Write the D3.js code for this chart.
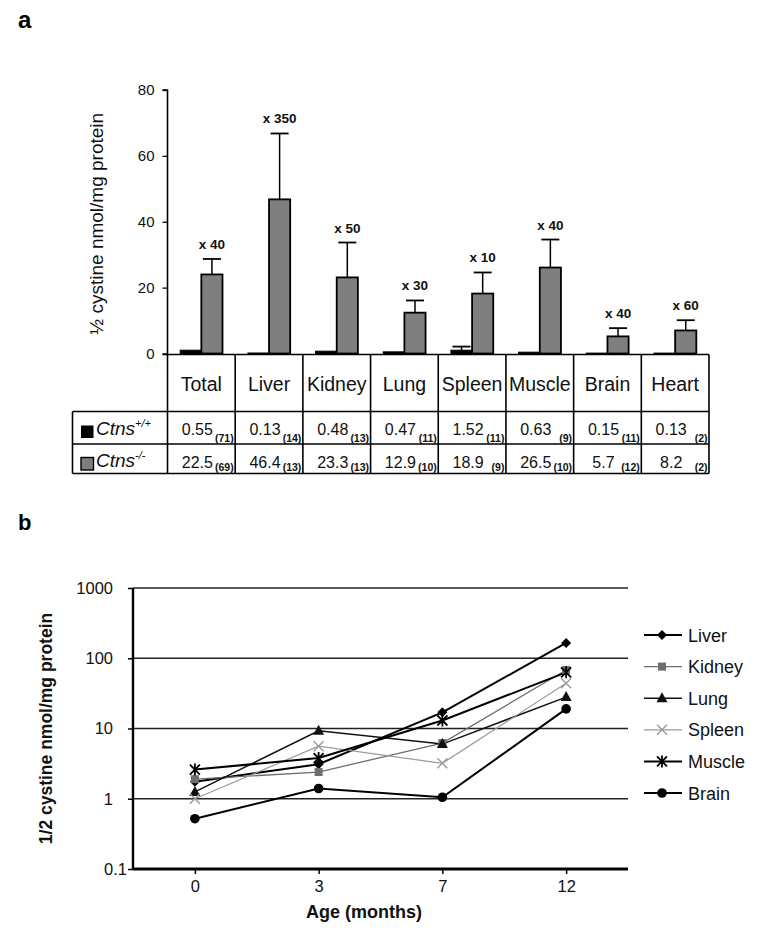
<!DOCTYPE html>
<html><head><meta charset="utf-8">
<script src="https://cdn.jsdelivr.net/npm/d3@7/dist/d3.min.js"></script>
<style>
html,body{margin:0;padding:0;background:#fff;}
svg{display:block;font-family:"Liberation Sans",Arial,Helvetica,sans-serif;}
</style></head>
<body>
<svg id="fig" width="757" height="935"></svg>
<script>
// ---------- Panel a data ----------
const tissues = ["Total","Liver","Kidney","Lung","Spleen","Muscle","Brain","Heart"];
const wtBar   = [1.0, 0.15, 0.7, 0.5, 1.0, 0.4, 0.12, 0.12];
const wtErr   = [null, null, null, null, 2.1, null, null, null];
const koBar   = [24.0, 46.8, 23.1, 12.4, 18.2, 26.1, 5.2, 7.0];
const koErr   = [28.7, 66.8, 33.7, 16.1, 24.6, 34.6, 7.7, 10.1];
const foldLabels = ["x 40","x 350","x 50","x 30","x 10","x 40","x 40","x 60"];
const wtMean = ["0.55","0.13","0.48","0.47","1.52","0.63","0.15","0.13"];
const wtN    = ["(71)","(14)","(13)","(11)","(11)","(9)","(11)","(2)"];
const koMean = ["22.5","46.4","23.3","12.9","18.9","26.5","5.7","8.2"];
const koN    = ["(69)","(13)","(13)","(10)","(9)","(10)","(12)","(2)"];
const yTicksA = [0,20,40,60,80];

// ---------- Panel b data ----------
const ages = ["0","3","7","12"];
const seriesNames = ["Liver","Kidney","Lung","Spleen","Muscle","Brain"];
const liver  = [1.75, 3.1, 17, 165];
const kidney = [1.9, 2.4, 6.2, 68];
const lung   = [1.25, 9.3, 6.0, 28];
const spleen = [1.0, 5.6, 3.2, 44];
const muscle = [2.6, 3.8, 13, 63];
const brain  = [0.52, 1.4, 1.05, 19];
const yTicksB = [0.1, 1, 10, 100, 1000];

const svg = d3.select("#fig");

// ================= Panel a =================
svg.append("text").attr("x",18).attr("y",28).attr("font-size",24).attr("font-weight","bold").text("a");

const tblLeft = 167.5, tblRight = 709;
const xCol = d3.scaleBand().domain(tissues).range([tblLeft, tblRight]).padding(0);
const xGrp = d3.scaleBand().domain(["wt","ko"]).range([0, xCol.bandwidth()]).paddingInner(0).paddingOuter(0.6);
const yA = d3.scaleLinear().domain([0,80]).range([353.5, 90]);

const gA = svg.append("g");
// y axis
const axA = gA.append("g").attr("transform",`translate(${tblLeft},0)`)
  .call(d3.axisLeft(yA).tickValues(yTicksA).tickSize(5).tickPadding(8).tickFormat(d3.format("d")));
axA.select(".domain").attr("stroke","#000").attr("stroke-width",1.6).attr("d",`M-5,${yA(80)}H0V${yA(0)+2}`);
axA.selectAll(".tick line").attr("stroke","#000").attr("stroke-width",1.3);
axA.selectAll(".tick text").attr("font-size",15).attr("fill","#111").attr("font-family","Liberation Sans, Arial, sans-serif");

gA.append("text").attr("transform",`translate(103,${(yA(0)+yA(80))/2+2}) rotate(-90)`)
  .attr("text-anchor","middle").attr("font-size",19).attr("fill","#111")
  .text("½ cystine  nmol/mg protein");

const data = tissues.map((t,i)=>({t, wt:wtBar[i], wtE:wtErr[i], ko:koBar[i], koE:koErr[i], lab:foldLabels[i]}));

// error bars (behind bars)
const capW = 18;
data.forEach(d=>{
  const cxK = xCol(d.t)+xGrp("ko")+xGrp.bandwidth()/2;
  gA.append("line").attr("x1",cxK).attr("x2",cxK).attr("y1",yA(d.ko)).attr("y2",yA(d.koE)).attr("stroke","#000").attr("stroke-width",1.5);
  gA.append("line").attr("x1",cxK-capW/2).attr("x2",cxK+capW/2).attr("y1",yA(d.koE)).attr("y2",yA(d.koE)).attr("stroke","#000").attr("stroke-width",1.8);
  if(d.wtE!=null){
    const cxW = xCol(d.t)+xGrp("wt")+xGrp.bandwidth()/2;
    gA.append("line").attr("x1",cxW).attr("x2",cxW).attr("y1",yA(d.wt)).attr("y2",yA(d.wtE)).attr("stroke","#000").attr("stroke-width",1.5);
    gA.append("line").attr("x1",cxW-capW/2).attr("x2",cxW+capW/2).attr("y1",yA(d.wtE)).attr("y2",yA(d.wtE)).attr("stroke","#000").attr("stroke-width",1.8);
  }
  gA.append("text").attr("x",cxK).attr("y",yA(d.koE)-10).attr("text-anchor","middle")
    .attr("font-size",13.5).attr("font-weight","bold").attr("fill","#111").text(d.lab);
});
// bars
gA.selectAll("rect.wt").data(data).enter().append("rect")
  .attr("x",d=>xCol(d.t)+xGrp("wt")).attr("width",xGrp.bandwidth())
  .attr("y",d=>yA(d.wt)).attr("height",d=>yA(0)-yA(d.wt))
  .attr("fill","#000").attr("stroke","#000").attr("stroke-width",1);
gA.selectAll("rect.ko").data(data).enter().append("rect")
  .attr("x",d=>xCol(d.t)+xGrp("ko")).attr("width",xGrp.bandwidth())
  .attr("y",d=>yA(d.ko)).attr("height",d=>yA(0)-yA(d.ko))
  .attr("fill","#7f7f7f").attr("stroke","#000").attr("stroke-width",1.8);

// table
const rowTop = yA(0)+1, hdrBot = 411.5, r1Bot = 444, r2Bot = 473.5, legLeft = 72.5;
const T = gA.append("g").attr("stroke","#000").attr("stroke-width",1.6);
T.append("line").attr("x1",tblLeft-5).attr("x2",tblRight).attr("y1",rowTop).attr("y2",rowTop);
[hdrBot, r1Bot, r2Bot].forEach(y=>T.append("line").attr("x1",legLeft).attr("x2",tblRight).attr("y1",y).attr("y2",y));
T.append("line").attr("x1",legLeft).attr("x2",legLeft).attr("y1",hdrBot).attr("y2",r2Bot);
tissues.forEach(t=>T.append("line").attr("x1",xCol(t)).attr("x2",xCol(t)).attr("y1",rowTop).attr("y2",r2Bot));
T.append("line").attr("x1",tblRight).attr("x2",tblRight).attr("y1",rowTop).attr("y2",r2Bot);

tissues.forEach((t,i)=>{
  const cx = xCol(t)+xCol.bandwidth()/2, right = xCol(t)+xCol.bandwidth()-1.5;
  gA.append("text").attr("x",cx).attr("y",391).attr("text-anchor","middle").attr("font-size",19.5).attr("fill","#111").text(t);
  gA.append("text").attr("x",cx-4).attr("y",435).attr("text-anchor","middle").attr("font-size",16).attr("fill","#111").text(wtMean[i]);
  gA.append("text").attr("x",right).attr("y",441.5).attr("text-anchor","end").attr("font-size",10.5).attr("font-weight","bold").attr("fill","#111").text(wtN[i]);
  gA.append("text").attr("x",cx-4).attr("y",467.5).attr("text-anchor","middle").attr("font-size",16).attr("fill","#111").text(koMean[i]);
  gA.append("text").attr("x",right).attr("y",471).attr("text-anchor","end").attr("font-size",10.5).attr("font-weight","bold").attr("fill","#111").text(koN[i]);
});
// legend cells
gA.append("rect").attr("x",81).attr("y",425.5).attr("width",12.5).attr("height",12.5).attr("fill","#000");
gA.append("rect").attr("x",81).attr("y",457.5).attr("width",12.5).attr("height",12.5).attr("fill","#7f7f7f").attr("stroke","#000").attr("stroke-width",1.4);
const l1 = gA.append("text").attr("x",96).attr("y",434.5).attr("font-size",19).attr("font-style","italic").attr("fill","#111");
l1.append("tspan").text("Ctns");
l1.append("tspan").attr("dy",-8).attr("font-size",11).text("+/+");
const l2 = gA.append("text").attr("x",96).attr("y",467).attr("font-size",19).attr("font-style","italic").attr("fill","#111");
l2.append("tspan").text("Ctns");
l2.append("tspan").attr("dy",-8).attr("font-size",11).text("-/-");

// ================= Panel b =================
svg.append("text").attr("x",18).attr("y",530).attr("font-size",22).attr("font-weight","bold").text("b");

const xB = d3.scalePoint().domain(ages).range([133, 628]).padding(0.5);
const yB = d3.scaleLog().domain([0.1,1000]).range([869, 588]);
const gB = svg.append("g");

// gridlines
gB.selectAll("line.grid").data(yTicksB.filter(v=>v>0.1)).enter().append("line")
  .attr("x1",133).attr("x2",628).attr("y1",d=>yB(d)).attr("y2",d=>yB(d))
  .attr("stroke","#222").attr("stroke-width",1.3);

const axBy = gB.append("g").attr("transform","translate(133,0)")
  .call(d3.axisLeft(yB).tickValues(yTicksB).tickSize(5).tickPadding(15).tickFormat(d=>String(d)));
axBy.select(".domain").attr("stroke","#000").attr("stroke-width",2.4).attr("d",`M0,${yB(1000)}V${yB(0.1)+1}`);
axBy.selectAll(".tick line").attr("stroke","#000").attr("stroke-width",1.5);
axBy.selectAll(".tick text").attr("font-size",16.5).attr("fill","#111").attr("font-family","Liberation Sans, Arial, sans-serif")
  .attr("x",d=>d===0.1 ? -6 : -20);

const axBx = gB.append("g").attr("transform",`translate(0,${yB(0.1)})`)
  .call(d3.axisBottom(xB).tickSize(5).tickPadding(6));
axBx.select(".domain").attr("stroke","#000").attr("stroke-width",3).attr("d","M133,0H628");
axBx.selectAll(".tick line").attr("stroke","#000").attr("stroke-width",1.5);
axBx.selectAll(".tick text").attr("font-size",16.5).attr("fill","#111").attr("font-family","Liberation Sans, Arial, sans-serif");

gB.append("text").attr("x",364).attr("y",918).attr("text-anchor","middle").attr("font-size",18).attr("font-weight","bold").attr("fill","#111").text("Age (months)");
gB.append("text").attr("transform",`translate(52,${(yB(0.1)+yB(1000))/2}) rotate(-90)`)
  .attr("text-anchor","middle").attr("font-size",17.5).attr("font-weight","bold").attr("fill","#111")
  .text("1/2 cystine nmol/mg protein");

const series = [
  {name:"Liver",  vals:liver,  color:"#000", w:2.0, marker:"diamond"},
  {name:"Kidney", vals:kidney, color:"#6e6e6e", w:1.3, marker:"square"},
  {name:"Lung",   vals:lung,   color:"#111", w:1.5, marker:"triangle"},
  {name:"Spleen", vals:spleen, color:"#9a9a9a", w:1.2, marker:"x"},
  {name:"Muscle", vals:muscle, color:"#000", w:2.0, marker:"star"},
  {name:"Brain",  vals:brain,  color:"#000", w:2.0, marker:"circle"}
];

function drawMarker(g, type, x, y, color){
  if(type==="diamond") g.append("path").attr("d",`M${x},${y-5}L${x+5},${y}L${x},${y+5}L${x-5},${y}Z`).attr("fill",color);
  else if(type==="square") g.append("rect").attr("x",x-4).attr("y",y-4).attr("width",8).attr("height",8).attr("fill",color);
  else if(type==="triangle") g.append("path").attr("d",`M${x},${y-6}L${x+5.5},${y+4}L${x-5.5},${y+4}Z`).attr("fill",color);
  else if(type==="circle") g.append("circle").attr("cx",x).attr("cy",y).attr("r",4.8).attr("fill",color);
  else if(type==="x") g.append("path").attr("d",`M${x-5},${y-5}L${x+5},${y+5}M${x-5},${y+5}L${x+5},${y-5}`).attr("stroke",color).attr("stroke-width",1.4).attr("fill","none");
  else if(type==="star") g.append("path").attr("d",`M${x-5},${y-5}L${x+5},${y+5}M${x-5},${y+5}L${x+5},${y-5}M${x},${y-6}V${y+6}`).attr("stroke",color).attr("stroke-width",1.8).attr("fill","none");
}

const line = d3.line().x((d,i)=>xB(ages[i])).y(d=>yB(d));
series.forEach(s=>{
  gB.append("path").attr("d",line(s.vals)).attr("fill","none").attr("stroke",s.color).attr("stroke-width",s.w);
});
series.forEach(s=>{
  s.vals.forEach((v,i)=>drawMarker(gB, s.marker, xB(ages[i]), yB(v), s.color));
});

// legend
const legY = d3.scalePoint().domain(seriesNames).range([635, 793]);
series.forEach(s=>{
  const y = legY(s.name);
  gB.append("line").attr("x1",644).attr("x2",682).attr("y1",y).attr("y2",y).attr("stroke",s.color).attr("stroke-width",s.w);
  drawMarker(gB, s.marker, 662, y, s.color);
  gB.append("text").attr("x",688).attr("y",y+6.5).attr("font-size",18).attr("fill","#111").text(s.name);
});
</script>
</body></html>
